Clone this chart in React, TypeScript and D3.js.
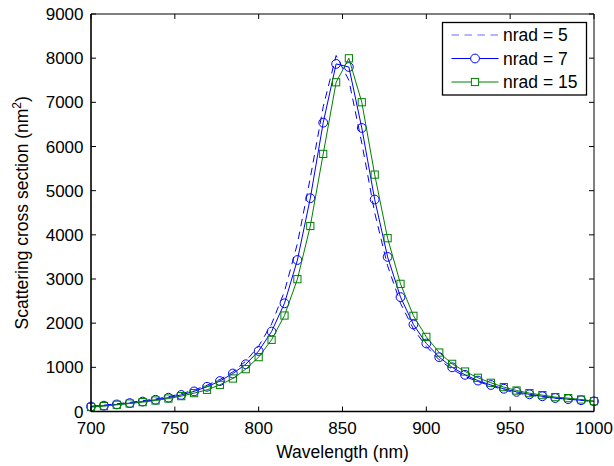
import React from "react";
import * as d3 from "d3";

const wavelengths = [700, 707.7, 715.4, 723.1, 730.8, 738.5, 746.2, 753.8, 761.5, 769.2, 776.9, 784.6, 792.3, 800, 807.7, 815.4, 823.1, 830.8, 838.5, 846.2, 853.8, 861.5, 869.2, 876.9, 884.6, 892.3, 900, 907.7, 915.4, 923.1, 930.8, 938.5, 946.2, 953.8, 961.5, 969.2, 976.9, 984.6, 992.3, 1000];

const nrad5 = [118, 143, 174, 206, 244, 283, 333, 403, 486, 595, 725, 897, 1140, 1480, 1980, 2720, 3800, 5290, 6900, 8060, 7500, 6080, 4500, 3300, 2450, 1870, 1470, 1170, 955, 790, 677, 580, 489, 418, 370, 330, 300, 280, 255, 225];
const nrad7 = [113, 133, 160, 190, 225, 265, 313, 375, 455, 560, 690, 860, 1070, 1370, 1810, 2450, 3430, 4830, 6540, 7870, 7800, 6420, 4800, 3500, 2590, 1970, 1540, 1230, 1000, 830, 700, 600, 515, 445, 390, 345, 305, 280, 255, 230];
const nrad15 = [100, 122, 152, 181, 212, 249, 294, 348, 416, 491, 604, 747, 959, 1231, 1623, 2173, 2996, 4200, 5832, 7454, 7997, 7002, 5363, 3924, 2890, 2166, 1690, 1335, 1079, 905, 763, 650, 552, 475, 416, 371, 326, 303, 272, 235];

const xTicks = [700, 750, 800, 850, 900, 950, 1000];
const yTicks = [0, 1000, 2000, 3000, 4000, 5000, 6000, 7000, 8000, 9000];
const legendLabels = ["nrad = 5", "nrad = 7", "nrad = 15"];

const W = 614, H = 466;
const L = 91, R = 594, T = 14, B = 411.5;
const FONT = "'Liberation Sans', Arial, Helvetica, sans-serif";
const BLUE = "#0000ff";
const GREEN = "#008000";

export default function App() {
  const x = d3.scaleLinear().domain([700, 1000]).range([L, R]);
  const y = d3.scaleLinear().domain([0, 9000]).range([B, T]);
  const line = d3.line<number>().x((_, i) => x(wavelengths[i])).y((d) => y(d));

  const legX0 = 451.5, legX1 = 498.5, legTextX = 503;
  const legY = [35, 58.5, 82];

  return (
    <svg width={W} height={H} style={{ position: "absolute", left: 0, top: 0, background: "#fff" }} fontFamily={FONT}>
      <rect x={0} y={0} width={W} height={H} fill="#fff" />
      {/* data */}
      <path d={line(nrad5) || ""} fill="none" stroke={BLUE} strokeWidth={1} strokeDasharray="7.5,5.5" />
      <path d={line(nrad7) || ""} fill="none" stroke={BLUE} strokeWidth={1} />
      {nrad7.map((v, i) => (
        <circle key={"c" + i} cx={x(wavelengths[i])} cy={y(v)} r={4.4} fill="none" stroke={BLUE} strokeWidth={1} />
      ))}
      <path d={line(nrad15) || ""} fill="none" stroke={GREEN} strokeWidth={1} />
      {nrad15.map((v, i) => (
        <rect key={"s" + i} x={x(wavelengths[i]) - 3.6} y={y(v) - 3.6} width={7.2} height={7.2} fill="none" stroke={GREEN} strokeWidth={1} />
      ))}

      {/* axes box */}
      <line x1={L} x2={R} y1={T} y2={T} stroke="#000" strokeWidth={1} />
      <line x1={R} x2={R} y1={T} y2={B} stroke="#000" strokeWidth={1} />
      <line x1={L} x2={L} y1={T} y2={B} stroke="#000" strokeWidth={1.6} />
      <line x1={L} x2={R} y1={B} y2={B} stroke="#000" strokeWidth={1.6} />

      {/* ticks */}
      {xTicks.map((t) => (
        <g key={"xt" + t}>
          <line x1={x(t)} x2={x(t)} y1={B} y2={B - 5} stroke="#000" strokeWidth={1} />
          <line x1={x(t)} x2={x(t)} y1={T} y2={T + 5} stroke="#000" strokeWidth={1} />
          <text x={x(t)} y={434} textAnchor="middle" fontSize={17} fill="#000">{t}</text>
        </g>
      ))}
      {yTicks.map((t) => (
        <g key={"yt" + t}>
          <line x1={L} x2={L + 5} y1={y(t)} y2={y(t)} stroke="#000" strokeWidth={1} />
          <line x1={R} x2={R - 5} y1={y(t)} y2={y(t)} stroke="#000" strokeWidth={1} />
          <text x={83.5} y={y(t) + 6} textAnchor="end" fontSize={17} fill="#000">{t}</text>
        </g>
      ))}

      {/* axis labels */}
      <text x={(L + R) / 2} y={458} textAnchor="middle" fontSize={17.5} fill="#000">Wavelength (nm)</text>
      <text transform={`translate(28, ${(T + B) / 2}) rotate(-90)`} textAnchor="middle" fontSize={17.5} fill="#000">
        Scattering cross section (nm<tspan dy={-7} fontSize={12}>2</tspan><tspan dy={7}>)</tspan>
      </text>

      {/* legend */}
      <rect x={442.5} y={22.5} width={144} height={72.5} fill="#fff" stroke="#000" strokeWidth={1.3} />
      <line x1={legX0} x2={legX1} y1={legY[0]} y2={legY[0]} stroke="#6b6bff" strokeWidth={1} strokeDasharray="7.5,5.5" />
      <line x1={legX0} x2={legX1} y1={legY[1]} y2={legY[1]} stroke={BLUE} strokeWidth={1} />
      <circle cx={(legX0 + legX1) / 2} cy={legY[1]} r={4.4} fill="#fff" stroke={BLUE} strokeWidth={1} />
      <line x1={legX0} x2={legX1} y1={legY[2]} y2={legY[2]} stroke={GREEN} strokeWidth={1} />
      <rect x={(legX0 + legX1) / 2 - 3.6} y={legY[2] - 3.6} width={7.2} height={7.2} fill="#fff" stroke={GREEN} strokeWidth={1} />
      {legendLabels.map((s, i) => (
        <text key={s} x={legTextX} y={legY[i] + 6} fontSize={17.5} fill="#000">{s}</text>
      ))}
    </svg>
  );
}
